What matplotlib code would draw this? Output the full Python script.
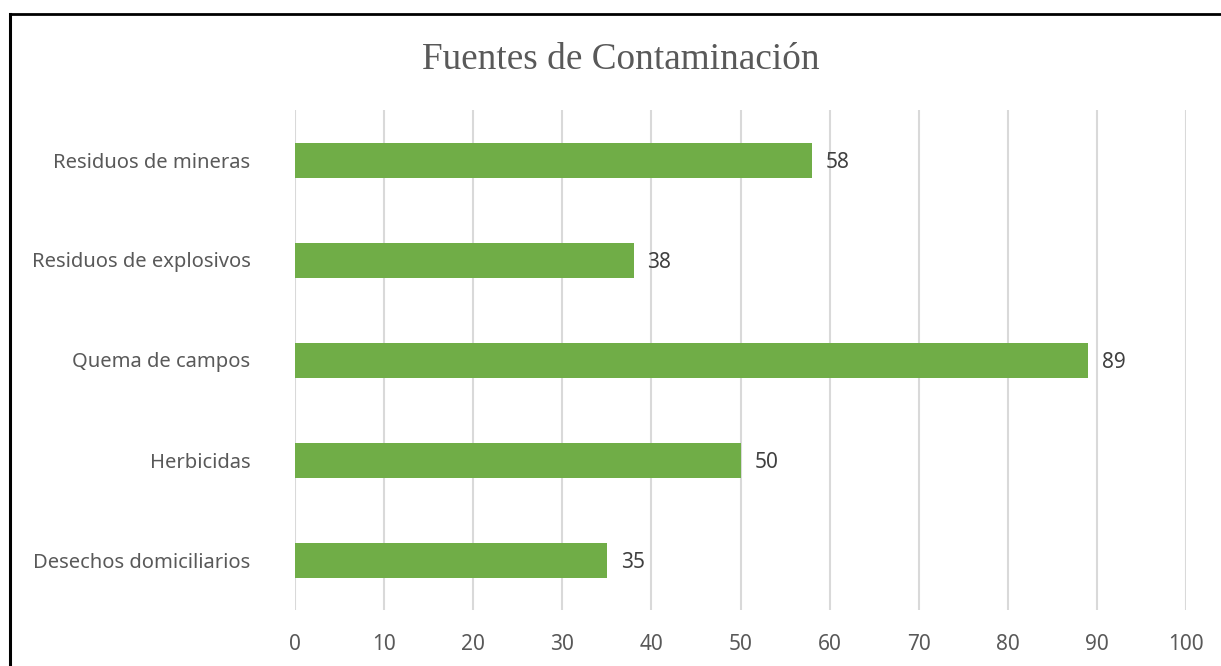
import matplotlib
matplotlib.use("Agg")
import matplotlib.pyplot as plt
from matplotlib.lines import Line2D

categories = ["Desechos domiciliarios", "Herbicidas", "Quema de campos",
              "Residuos de explosivos", "Residuos de mineras"]
values = [35, 50, 89, 38, 58]
xticks = [0, 10, 20, 30, 40, 50, 60, 70, 80, 90, 100]
title = "Fuentes de Contaminación"

FONT = "Noto Sans"

fig = plt.figure(figsize=(12.21, 6.66), dpi=100)
ax = fig.add_axes([295/1221, 1-610/666, (1186-295)/1221, 500/666])

ypos = list(range(len(categories)))
bars = ax.barh(ypos, values, height=0.35, color="#70AD47", zorder=3)
for y, v in zip(ypos, values):
    ax.annotate(str(v), (v, y), xytext=(10, -1.5), textcoords="offset points",
                va="center", ha="left", fontsize=15, family=FONT,
                color="#404040")

ax.set_xlim(0, 100)
ax.set_ylim(-0.5, len(categories) - 0.5)
ax.set_xticks(xticks)
ax.set_xticklabels([str(t) for t in xticks])
ax.set_yticks(ypos)
ax.set_yticklabels(categories)
ax.grid(axis="x", color="#D9D9D9", linewidth=1.5, zorder=0)
for s in ax.spines.values():
    s.set_visible(False)
ax.tick_params(axis="x", length=0, pad=17, labelsize=15, labelcolor="#595959")
ax.tick_params(axis="y", length=0, pad=32, labelsize=14.5, labelcolor="#595959")
for lbl in ax.get_xticklabels() + ax.get_yticklabels():
    lbl.set_family(FONT)

fig.text(621/1221, 1-60/666, title, ha="center", va="center",
         family="Liberation Serif", fontsize=26.8, color="#595959")

# outer frame (top and left visible)
fig.add_artist(Line2D([10/1221, 1.0], [1-14/666, 1-14/666], color="black",
                      linewidth=2, transform=fig.transFigure))
fig.add_artist(Line2D([10/1221, 10/1221], [0, 1-14/666], color="black",
                      linewidth=2.2, transform=fig.transFigure))

fig.savefig("out.png", dpi=100)
